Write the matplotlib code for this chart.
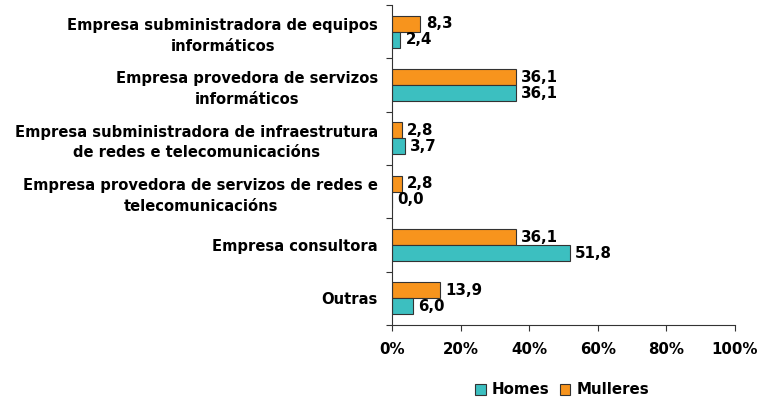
import matplotlib
matplotlib.use("Agg")
import matplotlib.pyplot as plt
import numpy as np
from matplotlib.ticker import FuncFormatter

categories = [
    "Empresa subministradora de equipos\ninformáticos",
    "Empresa provedora de servizos\ninformáticos",
    "Empresa subministradora de infraestrutura\nde redes e telecomunicacións",
    "Empresa provedora de servizos de redes e\ntelecomunicacións",
    "Empresa consultora",
    "Outras",
]
homes = [2.4, 36.1, 3.7, 0.0, 51.8, 6.0]
mulleres = [8.3, 36.1, 2.8, 2.8, 36.1, 13.9]
x_ticks = [0, 20, 40, 60, 80, 100]

teal = "#3CBFC0"
orange = "#F7941D"
edge = "#333333"

plt.rcParams["font.family"] = ["DejaVu Sans"]
plt.rcParams["font.weight"] = "bold"

fig = plt.figure(figsize=(7.58, 4.01), dpi=100)
ax = fig.add_axes([392 / 758, 1 - 325 / 401, (735 - 392) / 758, (325 - 5) / 401])

y = np.arange(len(categories))
h = 0.3
ax.barh(y - h / 2, mulleres, height=h, color=orange, edgecolor=edge, linewidth=0.8, label="Mulleres")
ax.barh(y + h / 2, homes, height=h, color=teal, edgecolor=edge, linewidth=0.8, label="Homes")

for yi, v in zip(y, mulleres):
    ax.annotate(f"{v:.1f}".replace(".", ","), (v, yi - h / 2), xytext=(4, 0),
                textcoords="offset points", va="center", ha="left",
                fontsize=10.8, fontweight="bold")
for yi, v in zip(y, homes):
    ax.annotate(f"{v:.1f}".replace(".", ","), (v, yi + h / 2), xytext=(4, 0),
                textcoords="offset points", va="center", ha="left",
                fontsize=10.8, fontweight="bold")

ax.set_xlim(0, 100)
ax.set_ylim(len(categories) - 0.5, -0.5)
ax.set_xticks(x_ticks)
ax.xaxis.set_major_formatter(FuncFormatter(lambda v, p: f"{v:.0f}%"))
ax.set_yticks(np.arange(len(categories) + 1) - 0.5, minor=False)
ax.set_yticklabels([])
ax.set_yticks(y, minor=True)
ax.set_yticklabels(categories, minor=True, fontsize=10.6, fontweight="bold",
                   ha="right", multialignment="center", linespacing=1.45)
ax.tick_params(axis="y", which="minor", length=0, pad=10)
ax.tick_params(axis="y", which="major", length=4, direction="out", color="#333333")
ax.tick_params(axis="x", length=4, direction="out", color="#333333", labelsize=10.8, pad=8)
for lab in ax.get_xticklabels():
    lab.set_fontweight("bold")

for s in ["top", "right"]:
    ax.spines[s].set_visible(False)
for s in ["left", "bottom"]:
    ax.spines[s].set_color("#333333")
    ax.spines[s].set_linewidth(0.8)

handles, labels = ax.get_legend_handles_labels()
leg = fig.legend(handles[::-1], labels[::-1], loc="center", bbox_to_anchor=(562 / 758, 1 - 390 / 401),
                 ncol=2, frameon=False, handlelength=0.7, handleheight=0.7,
                 handletextpad=0.4, columnspacing=0.7, prop={"weight": "bold", "size": 10.8})

fig.savefig("out.png", dpi=100)
